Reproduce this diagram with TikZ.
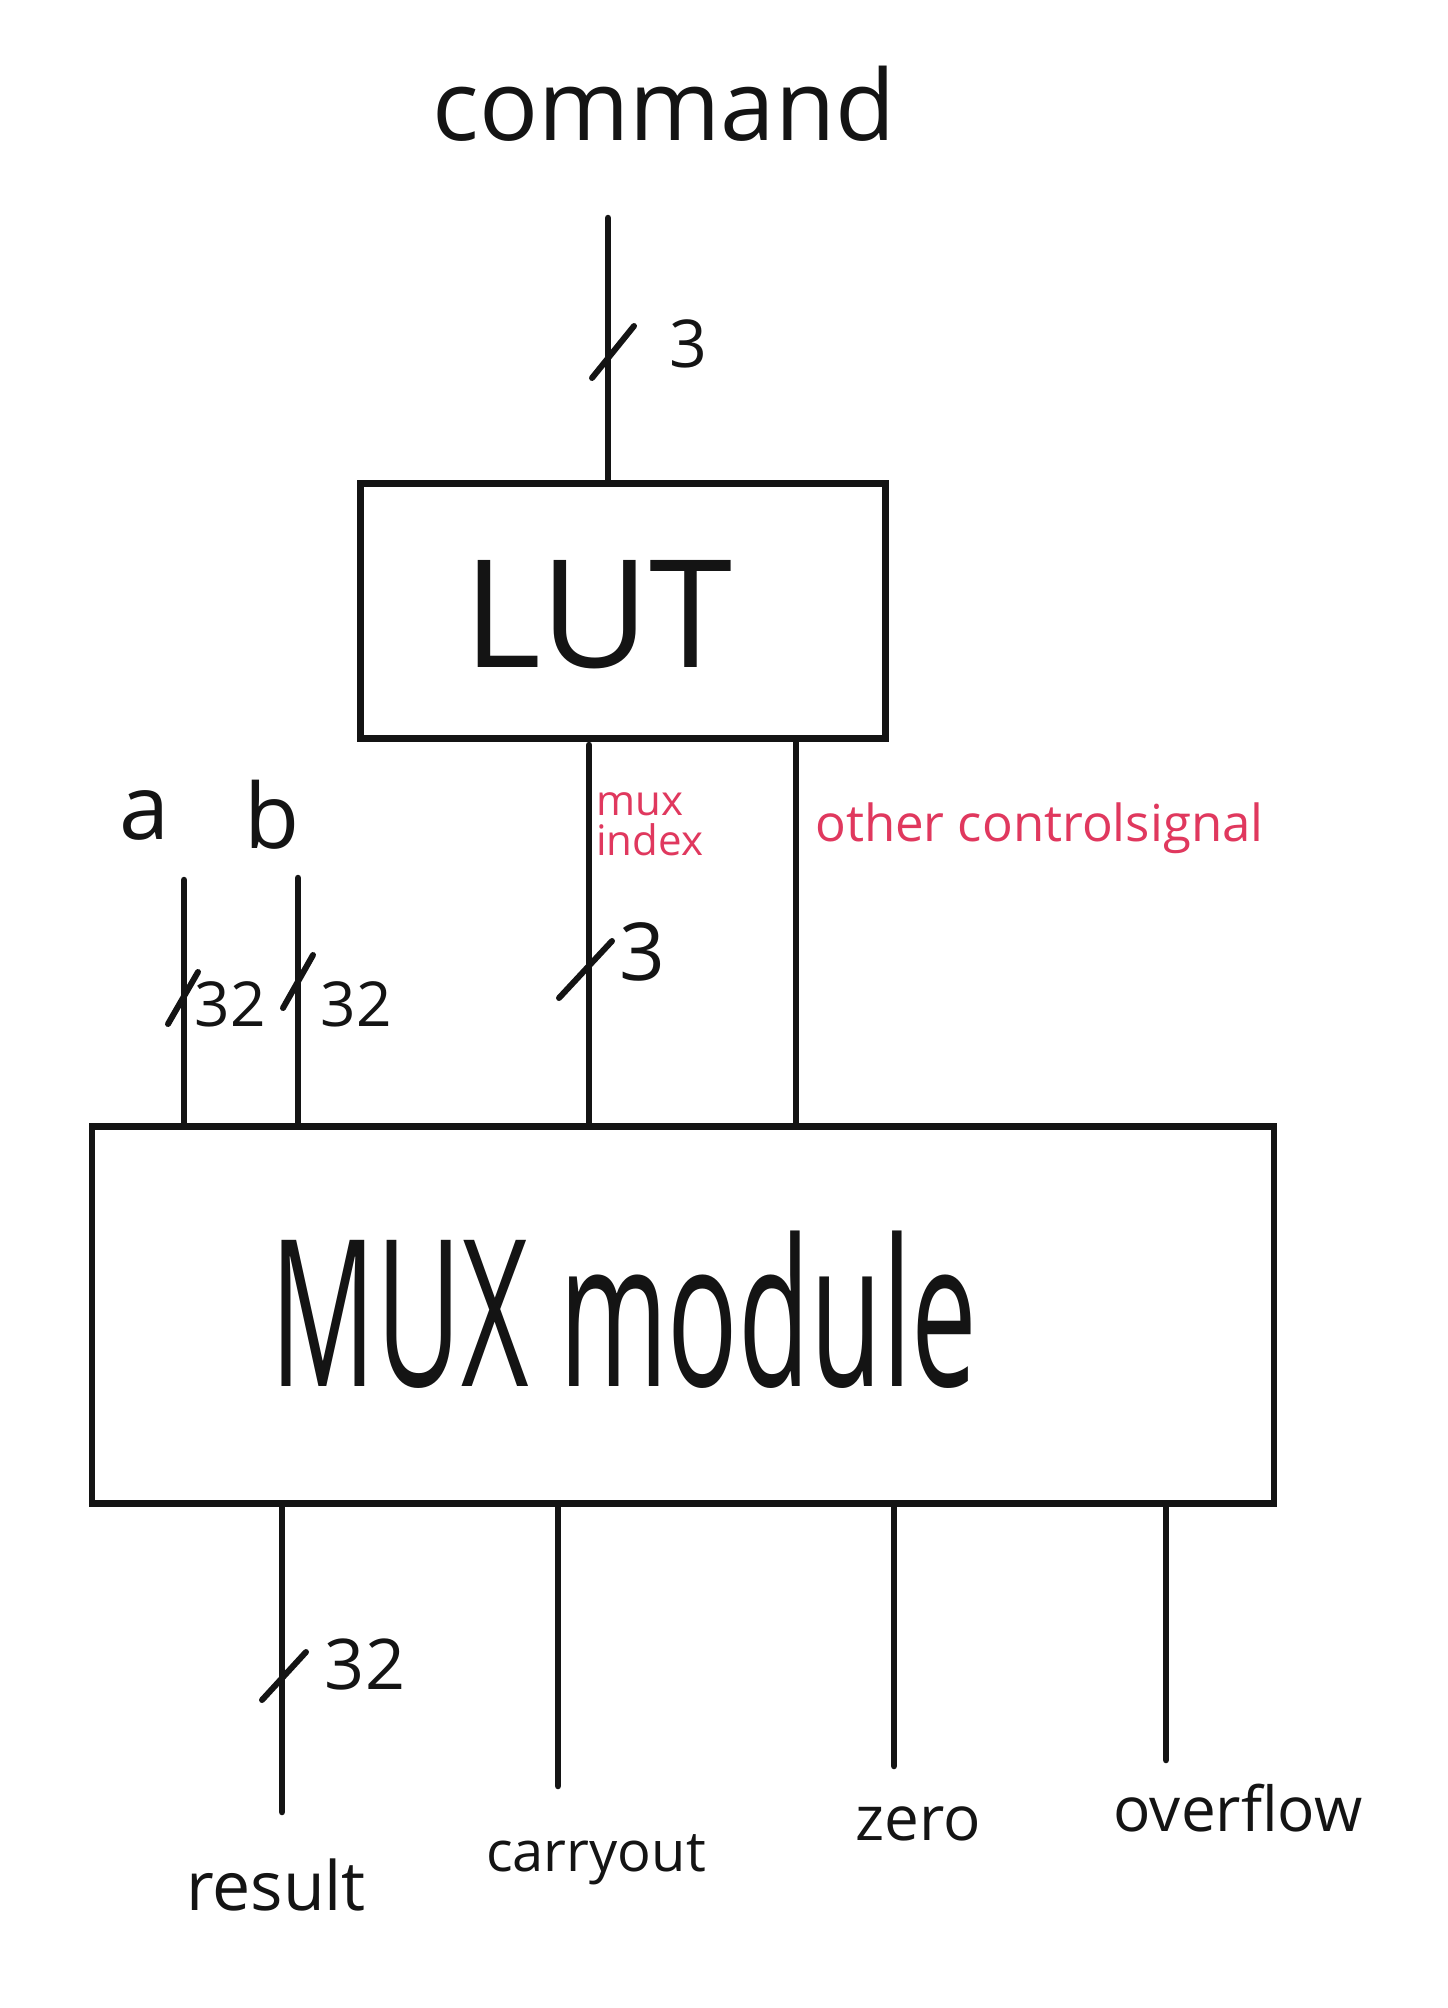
\documentclass[tikz,border=0pt]{standalone}
\usepackage{fontspec}
\setmainfont{Open Sans}
\definecolor{ink}{HTML}{141414}
\definecolor{redink}{HTML}{E0385E}
\begin{document}
\begin{tikzpicture}[x=1pt,y=-1pt,
  wire/.style={draw=ink,line width=6.5pt,line cap=round},
  slashmark/.style={draw=ink,line width=6pt,line cap=round},
  boxnode/.style={draw=ink,line width=6.5pt,fill=none,inner sep=0pt},
  lbl/.style={text=ink,inner sep=0pt,anchor=center},
  redlbl/.style={text=redink,inner sep=0pt,anchor=center}]
\fill[white] (0,0) rectangle (1448,2008);
\useasboundingbox (0,0) rectangle (1448,2008);

% boxes
\node[boxnode,minimum width=525pt,minimum height=255pt] (lut) at (623,611) {};
\node[lbl,font=\fontsize{150}{150}\selectfont] (luttxt) at (598,615) {LUT};
\node[boxnode,minimum width=1182pt,minimum height=377pt] (mux) at (683,1315) {};
\node[lbl,font=\fontsize{117}{120}\selectfont,yscale=1.75,transform shape] (muxtxt) at (624,1310) {MUX module};

% command input
\node[lbl,font=\fontsize{98}{100}\selectfont] (cmd) at (664,104) {command};
\coordinate (cmdtop) at (608,218);
\draw[wire] (cmdtop) -- (cmdtop |- lut.north);
\coordinate (s1a) at (592,378); \coordinate (s1b) at (634,326);
\draw[slashmark] (s1a) -- (s1b);
\node[lbl,font=\fontsize{66}{70}\selectfont] (n3a) at (688,344) {3};

% LUT outputs
\coordinate (muxidx) at (589,745);
\draw[wire] (muxidx) -- (muxidx |- mux.north);
\node[redlbl,font=\fontsize{42}{40}\selectfont,align=left,anchor=north west] (mi) at (596,792) {mux\\index};
\coordinate (s2a) at (559,998); \coordinate (s2b) at (612,941);
\draw[slashmark] (s2a) -- (s2b);
\node[lbl,font=\fontsize{80}{80}\selectfont] (n3b) at (642,952) {3};

\coordinate (other) at (796,739);
\draw[wire] (other) -- (other |- mux.north);
\node[redlbl,font=\fontsize{51}{52}\selectfont,anchor=west] (ocs) at (815,828) {other controlsignal};

% a, b inputs
\node[lbl,font=\fontsize{90}{90}\selectfont] (la) at (145,815) {a};
\node[lbl,font=\fontsize{90}{90}\selectfont] (lb) at (272,815) {b};
\coordinate (atop) at (184,880);
\coordinate (btop) at (298,878);
\draw[wire] (atop) -- (atop |- mux.north);
\draw[wire] (btop) -- (btop |- mux.north);
\coordinate (s3a) at (168,1024); \coordinate (s3b) at (198,972);
\draw[slashmark] (s3a) -- (s3b);
\node[lbl,font=\fontsize{62}{62}\selectfont] (n32a) at (230,1004) {32};
\coordinate (s4a) at (283,1008); \coordinate (s4b) at (313,955);
\draw[slashmark] (s4a) -- (s4b);
\node[lbl,font=\fontsize{62}{62}\selectfont] (n32b) at (356,1004) {32};

% outputs
\coordinate (rbot) at (282,1812);
\coordinate (cbot) at (558,1786);
\coordinate (zbot) at (894,1766);
\coordinate (obot) at (1166,1760);
\draw[wire] (rbot |- mux.south) -- (rbot);
\draw[wire] (cbot |- mux.south) -- (cbot);
\draw[wire] (zbot |- mux.south) -- (zbot);
\draw[wire] (obot |- mux.south) -- (obot);
\coordinate (s5a) at (262,1700); \coordinate (s5b) at (306,1652);
\draw[slashmark] (s5a) -- (s5b);
\node[lbl,font=\fontsize{70}{70}\selectfont] (n32c) at (365,1664) {32};

\node[lbl,font=\fontsize{68}{70}\selectfont] (res) at (276,1885) {result};
\node[lbl,font=\fontsize{56}{60}\selectfont] (cout) at (596,1860) {carryout};
\node[lbl,font=\fontsize{62}{64}\selectfont] (zero) at (918,1824) {zero};
\node[lbl,font=\fontsize{62}{64}\selectfont] (ovf) at (1238,1808) {overflow};
\end{tikzpicture}
\end{document}
